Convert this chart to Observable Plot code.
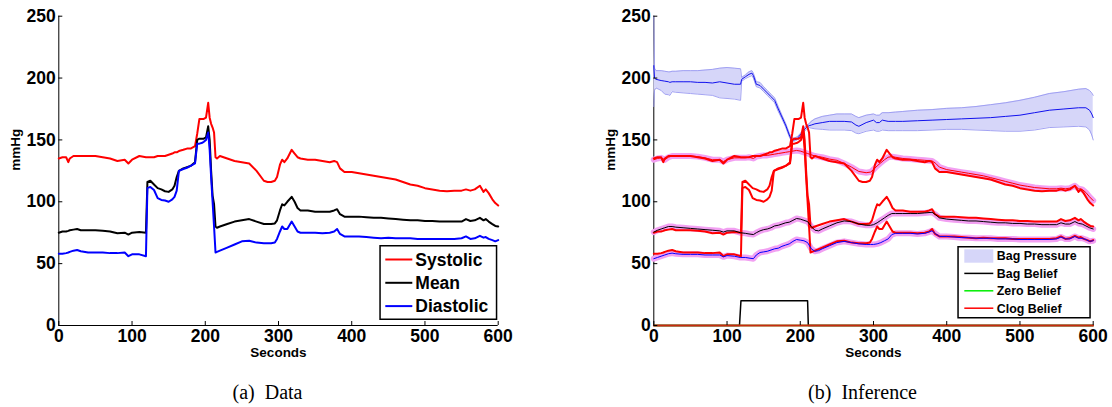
<!DOCTYPE html>
<html><head><meta charset="utf-8">
<script src="https://cdn.jsdelivr.net/npm/d3@7"></script>
<script src="https://cdn.jsdelivr.net/npm/@observablehq/plot@0.6"></script>
<style>
body{margin:0;background:#fff;}
#wrap{position:relative;width:1112px;height:407px;overflow:hidden;background:#fff;}
.panel{position:absolute;top:0;}
.panel svg text{font-weight:bold;}
#overlay{position:absolute;left:0;top:0;pointer-events:none;}
</style></head><body><div id="wrap"></div>
<script>
// ---------- DATA ----------
const xTicks = [0, 100, 200, 300, 400, 500, 600];
const yTicks = [0, 50, 100, 150, 200, 250];

// measured blood pressure (mmHg) vs time (s)
const T = [0,5,10,13,15,20,25,30,40,50,60,70,80,90,95,100,110,119,121,125,130,135,140,145,150,155,158,161,164,170,175,180,186,189,192,195,198,201,204,206,208,210,212,214,216,220,230,240,250,260,270,280,285,290,295,298,302,305,308,312,318,322,326,330,340,350,360,370,376,380,384,390,400,410,420,430,440,450,460,470,480,490,500,510,520,530,540,550,556,562,568,575,580,583,587,592,596,600];
const systolic = [135,136,136,132,135,137,137,137,137,137,136,135,133,134,131,134,137,136,136,136,136,137,137,137,138,139,140,140,141,142,143,143,145,155,167,167,167,168,180,168,163,160,156,136,135,137,135,133,132,131,125,117,116,116,117,120,130,134,132,135,142,139,136,135,134,134,133,132,133,132,127,124,124,123,122,121,120,119,118,116,114,113,111,110,109,108.5,109,109,110,109,110,113,108,110,107,102,99,97];
const mean = [75,76,76,76.5,77,77.5,78,77,77,77,76.5,76,74.5,75,73.5,75,75.5,75,116,117,114,111,110,108.5,108,110,113,120,125,127,128,129,132,150,151,151,151,152,161,150,125,105,98,80,79,80,82,84,85,86,84,82,82,82,82.5,85,93,98,97,100,104,100,95,93,93,92,92,92,93,94,90,88,88,88,87.5,87,87,86.5,86,85.5,85,85,84.5,84.5,84,84,84,84,86,84.5,85,87,85,86,84,82,80.5,80];
const diastolic = [58,58,58.5,59,59.5,60.5,61,60,59,59,59,58.5,58.5,59,56,57.5,57.5,56,111,112,109.5,103,101.5,101,100,102,104,109,125,126.5,127.5,129,131,147,147,147.5,148.5,150,156,142,120,100,80,59,59.5,60.5,63,65.5,68,68.5,67,66.5,66.5,66.5,67,70,76,80,78,78,84,80,76,75,75,75,74.5,75,76,78,74,72,72,72,71.5,71,70.5,71,70.5,70.5,70.5,70,70,70,70,70,70,70.5,72,70,70.5,72.5,71,71.5,70,69,68,69];

// inferred estimates (Inference panel)
const estT = [0,5,10,15,20,25,30,40,50,60,70,80,90,95,100,110,118,125,130,136,140,145,150,155,160,165,170,175,180,185,190,195,200,205,210,215,220,225,230,240,250,260,270,280,290,296,300,305,310,315,320,325,330,340,350,360,370,380,385,390,400,410,420,430,440,450,460,470,480,490,500,510,520,530,540,550,556,562,568,575,580,585,590,595,600];
const sysEst = [134,135,135.5,134,136,137,137,137,137,136.5,135.5,134,134,132.5,134,135.5,135.5,135.5,136,135,136.5,137,137.5,137.5,138,138.5,139,139.5,140,140.5,141,141.5,141,140,139,138,137,136.5,136,134.5,133.5,131,128,124.5,123.5,124,126,129,131.5,134,136,136.5,136,135,134.5,134,133.5,133,131,128,126,125,124,123,122,121,119.5,118,116.5,115,113.5,112.5,111.5,111,110.5,110.5,111,110.5,111,113,110.5,110,107.5,104,101];
const meanEst = [75.5,77,78,79,80,80,79.5,79,78.5,78,77.5,77,76.5,75.5,76.5,76.5,75,74.5,74,73.5,75,76.5,77.5,78,79,80.5,81,82,83,83.5,85,86.5,86,85,84,80,77,76.5,78,80.5,83,84.5,84,82,81,81,81.5,83,85,87,89,90.5,90.5,90.5,90.5,90.5,91,91.5,89.5,87,86,85.5,85,84.5,84.5,84,83.5,83,83,82.5,82.5,82,82,81.5,81.5,81.5,83,82,82,84,82.5,82,80.5,79,78];
const diaEst = [54,55,56,57,58,58.5,58,57.5,57.5,57.5,57,57,57,55.5,56.5,56,55,55,54.5,54,57,59,59.5,60,61,62,62.5,64,65,66,68,69.5,69,68.5,67,62,60,60.5,62,64.5,67,68,67,66,65.5,65.5,65.5,66,67,68.5,70,73.5,74.5,74.5,74.5,74,74.5,76.5,74,72,72,71.5,71,71,70.5,70.5,70.5,70,70,70,69.5,69.5,69.5,69.5,69.5,70,71.5,70,70,72,70.5,70.5,69.5,68,68.5];

// bag pressure belief (mean and band)
const bagT = [0,1,3,10,15,20,22,25,30,40,50,60,70,80,90,100,110,118.5,120,125,130,134,136,140,145,150,155,160,165,170,175,180,185,188,192,196,200,204,208,212,215,220,230,240,250,260,270,276,280,290,300,304,308,312,320,330,340,360,380,400,420,440,460,480,500,520,540,560,580,590,595,598,600];
const bagMid = [210,200,199,198,197.5,197,196.5,197,197,197,197,196.5,196.5,196,197,196,195,195,199,201,203,204,202,195,194,191,188,185,182,175,168.5,162,154,150,150,151,154,157,160,161.5,162,163,164,165,165,165,164.5,162,161,164,166,164,164,166,165,165,165,165.5,166,166.5,167,167.5,168,169,170,172,174,175,176,176,174,171,168];
const bagLo = [177,190,192,190,187,186.5,186,189,188.5,188,187.5,187,186.5,186,184,183.5,183,182,197.5,199.5,201,202,200,193,192,189,186,183,180,173,167,160.5,152.5,149,149,150,152.5,155.5,158.5,160,159.5,159,158.5,158,158,158,157.5,155.5,155,157,158,157,157,158,157.5,157.5,157.5,157.5,158,158.5,158.5,158,157.5,157,157,158,160,160.5,161,160.5,158,154,150];
const bagHi = [250,208,206,206,205.5,205,205,205.5,205.5,206,206,206,206.5,207,208,208.5,208,207.5,200.5,202.5,205,206,204,197,196.5,193,190,187,184,177,170,163.5,155.5,151.5,151.5,152.5,155,158.5,161.5,163,165,167,169,170,171,171,171,169,168,170,171,170,170,172,172,172.5,173,174,174.5,175.5,176,177,178.5,180,182,184.5,187.5,189,191,191.5,190,188,186];

// mode beliefs (bottom traces)
const beliefT = [0,117,119,210,211,600];
const bagBelief = [0,0,20,20,0,0];
const zeroBelief = [0,0,0,0,0,0];
const clogBelief = [0,0,0,0,0,0];

// ---------- DRAW ----------
const FONT = "'Liberation Sans', Arial, Helvetica, sans-serif";
function panel(marginLeft, marginRight, marks) {
  return Plot.plot({
    width: 556, height: 370,
    marginLeft, marginRight, marginTop: 15.7, marginBottom: 45,
    x: {domain: [0, 600]},
    y: {domain: [0, 250]},
    style: {fontFamily: FONT, background: "white", overflow: "visible"},
    marks: [
      Plot.ruleX([0], {stroke: "black", strokeWidth: 1}),
      Plot.ruleY([0], {stroke: "black", strokeWidth: 1}),
      ...marks,
      Plot.axisX({ticks: xTicks, tickSize: -4, tickPadding: 8, fontSize: 17.5, label: null, tickFormat: d => d}),
      Plot.axisY({ticks: yTicks, tickSize: -4, tickPadding: 7, fontSize: 17.5, label: null, tickFormat: d => d}),
      Plot.text(["Seconds"], {frameAnchor: "bottom", dy: 31, fontSize: 13.5, fill: "black"}),
      Plot.text(["mmHg"], {frameAnchor: "left", dx: -43, rotate: -90, fontSize: 13.5, fill: "black"})
    ]
  });
}

const left = panel(58.3, 58.3, [
  Plot.line(systolic, {x: T, y: systolic, stroke: "#ff0000", strokeWidth: 2}),
  Plot.line(mean, {x: T, y: mean, stroke: "#000000", strokeWidth: 2}),
  Plot.line(diastolic, {x: T, y: diastolic, stroke: "#0000ff", strokeWidth: 2})
]);

const PINK = "#f2a0f2";
const right = panel(97.3, 19.3, [
  Plot.areaY(bagMid, {x: bagT, y1: bagLo, y2: bagHi, fill: "#d6d6f9"}),
  Plot.line(bagHi, {x: bagT, y: bagHi, stroke: "#9898f0", strokeWidth: 0.9}),
  Plot.line(bagLo, {x: bagT, y: bagLo, stroke: "#9898f0", strokeWidth: 0.9}),
  Plot.line(bagMid, {x: bagT, y: bagMid, stroke: "#1010ee", strokeWidth: 1}),
  Plot.line(sysEst, {x: estT, y: sysEst, stroke: PINK, strokeWidth: 6}),
  Plot.line(meanEst, {x: estT, y: meanEst, stroke: PINK, strokeWidth: 6}),
  Plot.line(diaEst, {x: estT, y: diaEst, stroke: PINK, strokeWidth: 6}),
  Plot.line(systolic, {x: T, y: systolic, stroke: "#ff0000", strokeWidth: 2}),
  Plot.line(mean, {x: T, y: mean, stroke: "#ff0000", strokeWidth: 2}),
  Plot.line(diastolic, {x: T, y: diastolic, stroke: "#ff0000", strokeWidth: 2}),
  Plot.line(sysEst, {x: estT, y: sysEst, stroke: "#ff0000", strokeWidth: 1}),
  Plot.line(meanEst, {x: estT, y: meanEst, stroke: "#000000", strokeWidth: 1}),
  Plot.line(diaEst, {x: estT, y: diaEst, stroke: "#0000ff", strokeWidth: 1}),
  Plot.line(bagBelief, {x: beliefT, y: bagBelief, stroke: "#000000", strokeWidth: 1.5}),
  Plot.line(zeroBelief, {x: beliefT, y: zeroBelief, stroke: "#00dd00", strokeWidth: 1.5}),
  Plot.line(clogBelief, {x: beliefT, y: clogBelief, stroke: "#c82a10", strokeWidth: 1.8})
]);

const wrap = document.getElementById("wrap");
const d1 = document.createElement("div"); d1.className = "panel"; d1.style.left = "0px"; d1.appendChild(left);
const d2 = document.createElement("div"); d2.className = "panel"; d2.style.left = "556px"; d2.appendChild(right);
wrap.appendChild(d1); wrap.appendChild(d2);

// legends and captions overlay
const leftLegend = [["Systolic", "#ff0000"], ["Mean", "#000000"], ["Diastolic", "#0000ff"]];
const rightLegend = [["Bag Pressure", "#d6d6f9", "area"], ["Bag Belief", "#000000"], ["Zero Belief", "#00ee00"], ["Clog Belief", "#ff0000"]];
const captions = [["(a)  Data", 267.5], ["(b)  Inference", 862.5]];

const ov = d3.select(wrap).append("svg").attr("id", "overlay").attr("width", 1112).attr("height", 407);
const lg1 = ov.append("g").attr("transform", "translate(379.3,245)");
lg1.append("rect").attr("x", 0.75).attr("y", 0.75).attr("width", 116.5).attr("height", 73.5).attr("fill", "white").attr("stroke", "black").attr("stroke-width", 1.5);
leftLegend.forEach(([name, c], i) => {
  const y = 14.5 + i * 23.3;
  lg1.append("line").attr("x1", 6).attr("x2", 33).attr("y1", y).attr("y2", y).attr("stroke", c).attr("stroke-width", 2);
  lg1.append("text").attr("x", 36).attr("y", y).attr("dy", "0.35em").attr("font-family", FONT).attr("font-weight", "bold").attr("font-size", 17.5).text(name);
});
const lg2 = ov.append("g").attr("transform", "translate(957.3,246)");
lg2.append("rect").attr("x", 0.75).attr("y", 0.75).attr("width", 132).attr("height", 71).attr("fill", "white").attr("stroke", "black").attr("stroke-width", 1.5);
rightLegend.forEach(([name, c, kind], i) => {
  const y = 10 + i * 17.4;
  if (kind === "area") lg2.append("rect").attr("x", 7).attr("y", y - 6.7).attr("width", 29).attr("height", 13.4).attr("fill", c);
  else lg2.append("line").attr("x1", 7).attr("x2", 36).attr("y1", y).attr("y2", y).attr("stroke", c).attr("stroke-width", 1.5);
  lg2.append("text").attr("x", 39.5).attr("y", y).attr("dy", "0.35em").attr("font-family", FONT).attr("font-weight", "bold").attr("font-size", 12.4).text(name);
});
captions.forEach(([t, x]) => {
  ov.append("text").attr("x", x).attr("y", 399).attr("text-anchor", "middle").attr("font-family", "'Liberation Serif', 'Times New Roman', serif").attr("font-size", 20).attr("xml:space", "preserve").style("white-space", "pre").text(t);
});
</script></body></html>
